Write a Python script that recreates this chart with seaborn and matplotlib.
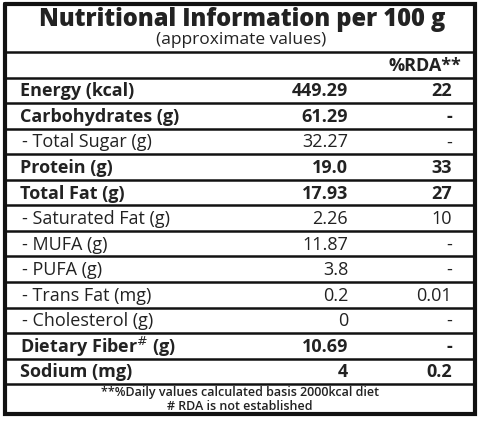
import matplotlib
matplotlib.use("Agg")
import matplotlib.pyplot as plt
import seaborn as sns

title = "Nutritional Information per 100 g"
subtitle = "(approximate values)"
rda_header = "%RDA**"
nutrients = ["Energy (kcal)", "Carbohydrates (g)", "- Total Sugar (g)", "Protein (g)",
             "Total Fat (g)", "- Saturated Fat (g)", "- MUFA (g)", "- PUFA (g)",
             "- Trans Fat (mg)", "- Cholesterol (g)", "Dietary Fiber$^{\\#}$ (g)", "Sodium (mg)"]
amounts = ["449.29", "61.29", "32.27", "19.0", "17.93", "2.26", "11.87", "3.8",
           "0.2", "0", "10.69", "4"]
rda = ["22", "-", "-", "33", "27", "10", "-", "-", "0.01", "-", "-", "0.2"]
bold_rows = [True, True, False, True, True, False, False, False, False, False, True, True]
footnotes = ["**%Daily values calculated basis 2000kcal diet", "# RDA is not established"]

sns.set_theme(style="white")
plt.rcParams['font.family'] = ['Open Sans', 'DejaVu Sans']

fig = plt.figure(figsize=(4.8, 4.21), dpi=100)
ax = fig.add_axes([0, 0, 1, 1])
ax.set_xlim(0, 480)
ax.set_ylim(421, 0)
ax.axis("off")

ink = "#222222"
left, right, top, bottom = 5, 475, 4, 414
ax.plot([left, right, right, left, left], [top, top, bottom, bottom, top],
        color="#111111", lw=3, solid_joinstyle="miter")

head_y = 52
row_h = 25.55
lines = [head_y + i * row_h for i in range(len(nutrients) + 2)]
for y in lines:
    ax.hlines(y, left, right, color="#111111", lw=1.8)

ax.text(242, 20, title, ha="center", va="center", fontsize=17, fontweight="heavy", color=ink)
ax.text(241, 40.5, subtitle, ha="center", va="center", fontsize=12.5, color=ink)
ax.text(461, head_y + row_h / 2 + 1, rda_header, ha="right", va="center", fontsize=13,
        fontweight="bold", color=ink)

for i, name in enumerate(nutrients):
    yc = lines[i + 1] + row_h / 2 + 1
    if bold_rows[i]:
        w, fs, x0 = "bold", 13, 20
    else:
        w, fs, x0 = "normal", 13, 22
    ax.text(x0, yc, name, ha="left", va="center", fontsize=fs, fontweight=w, color=ink)
    ax.text(348, yc, amounts[i], ha="right", va="center", fontsize=fs, fontweight=w, color=ink)
    ax.text(452, yc, rda[i], ha="right", va="center", fontsize=fs, fontweight=w, color=ink)

ax.text(240, lines[-1] + 8.5, footnotes[0], ha="center", va="center", fontsize=9,
        fontweight="semibold", color=ink)
ax.text(240, lines[-1] + 22, footnotes[1], ha="center", va="center", fontsize=9,
        fontweight="semibold", color=ink)

fig.savefig("out.png", dpi=100, facecolor="white")
